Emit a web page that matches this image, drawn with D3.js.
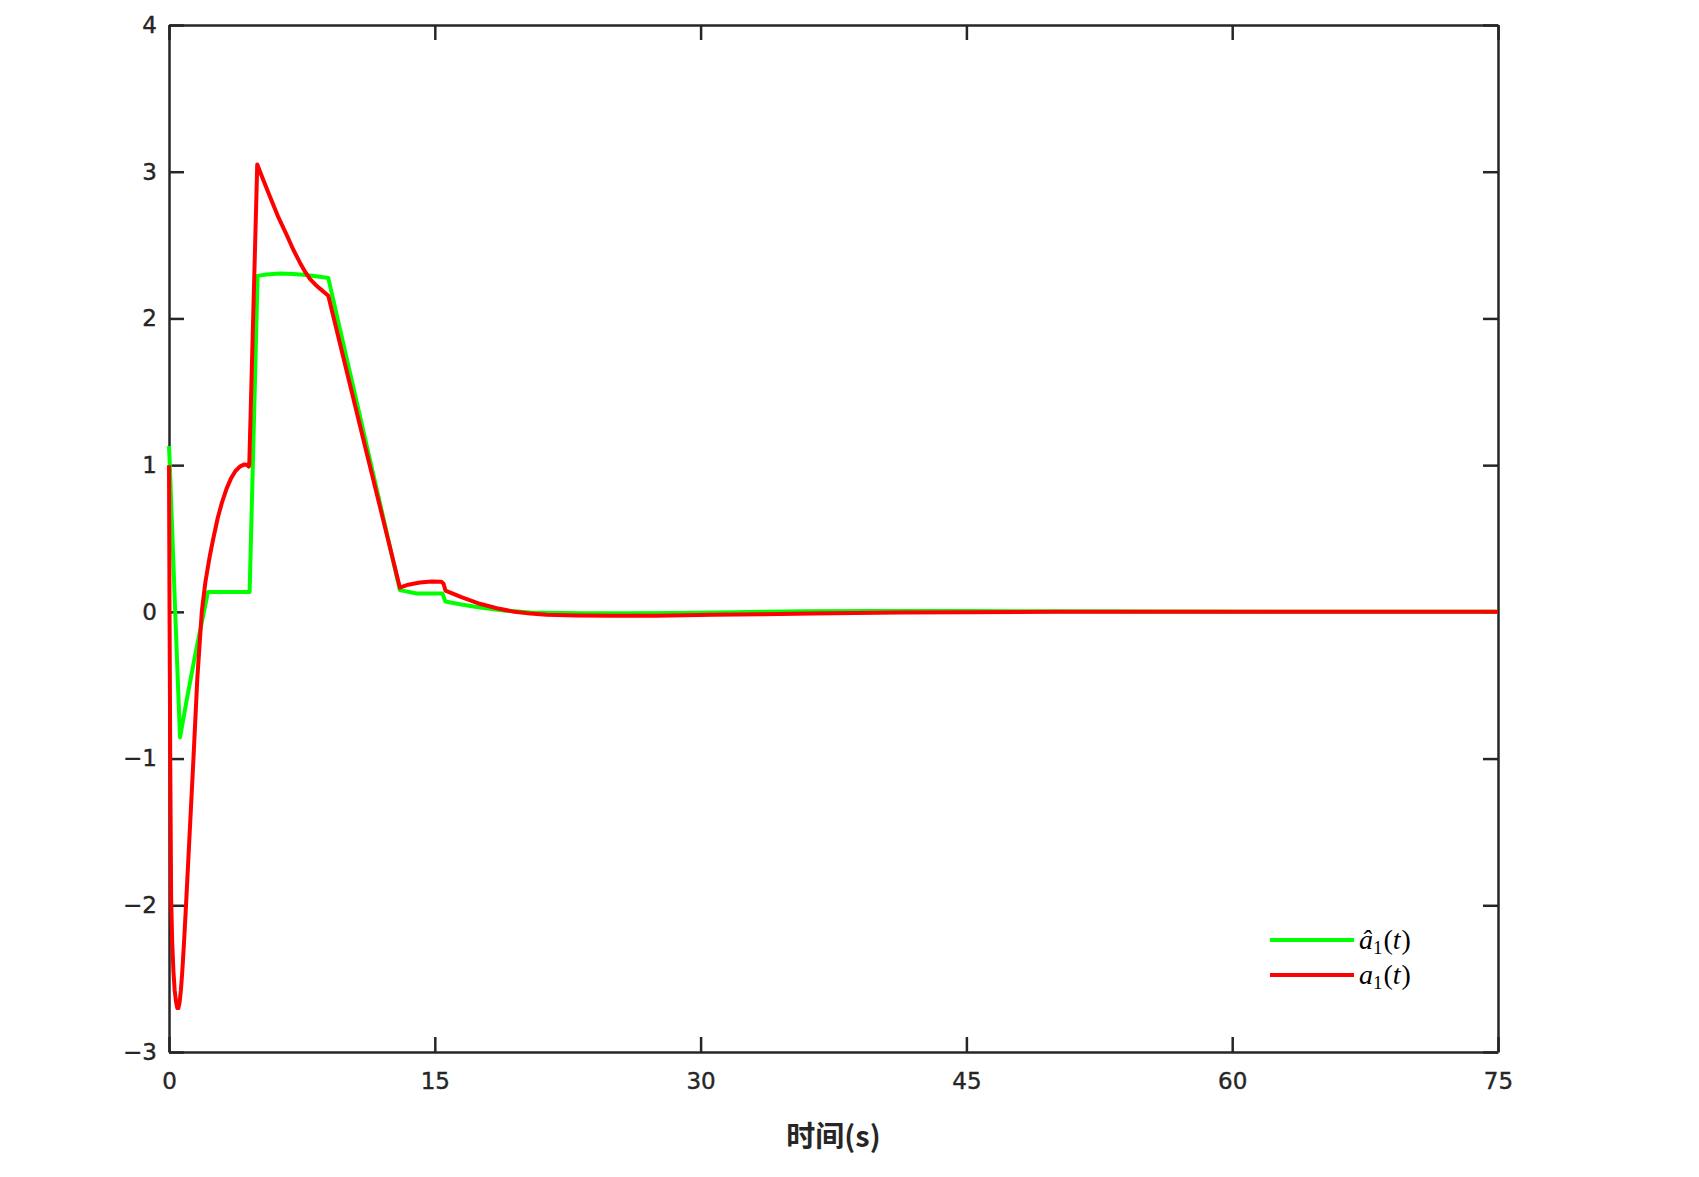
<!DOCTYPE html>
<html>
<head>
<meta charset="utf-8">
<script src="https://cdn.jsdelivr.net/npm/d3@7"></script>
<style>
  body { margin: 0; background: #fff; }
</style>
</head>
<body>
<div id="chart"></div>
<script>
// time (s) and value
var tRed = [0, 0.03, 0.07, 0.12, 0.18, 0.25, 0.32, 0.4, 0.47, 0.53, 0.6, 0.67, 0.75, 0.85, 0.96,
  1.17, 1.38, 1.6, 1.85, 2.05, 2.3, 2.5, 2.75, 3.0, 3.25, 3.5, 3.75, 4.0, 4.25, 4.4, 4.5, 4.53,
  4.98, 5.3, 5.7, 6.17, 6.64, 7.01, 7.39, 7.67, 7.95, 8.25, 8.52, 8.99, 11.0, 13.03, 13.5,
  14.16, 14.8, 15.38, 15.5, 15.6, 16.5, 17.54, 18.5, 19.5, 20.4, 21.3, 23, 25, 27.5, 30.7,
  33.5, 36.3, 41.2, 45, 50, 75];
var vRed = [1.0, 0.0, -1.0, -1.95, -2.25, -2.45, -2.58, -2.66, -2.7, -2.7, -2.66, -2.58, -2.45, -2.25, -2.0,
  -1.5, -1.0, -0.45, 0.0, 0.2, 0.38, 0.5, 0.64, 0.75, 0.84, 0.91, 0.96, 0.99, 1.005, 1.003, 0.99, 1.0,
  3.05, 2.95, 2.83, 2.69, 2.57, 2.47, 2.38, 2.32, 2.27, 2.232, 2.203, 2.155, 1.16, 0.165, 0.185,
  0.2, 0.207, 0.205, 0.19, 0.145, 0.1, 0.055, 0.025, 0.0, -0.012, -0.02, -0.025, -0.027, -0.026, -0.02,
  -0.016, -0.012, -0.005, -0.002, 0.0, 0.0];

var tGreen = [0, 0.03, 0.35, 0.62, 1.0, 1.5, 2.2, 4.55, 5.0, 5.5, 6.26, 7.0, 7.57, 8.3, 8.99,
  13.03, 13.97, 15.43, 15.6, 16.5, 17.54, 19, 20.4, 23.2, 26, 28.8, 32, 36, 40, 45, 55, 65, 75];
var vGreen = [1.13, 1.05, 0.0, -0.855, -0.6, -0.28, 0.136, 0.136, 2.29, 2.3, 2.306, 2.303, 2.297, 2.288, 2.275,
  0.148, 0.125, 0.125, 0.07, 0.05, 0.03, 0.008, -0.005, -0.01, -0.01, -0.007, -0.002, 0.004, 0.006, 0.005, 0.003, 0.001, 0.0];

var xTicks = [0, 15, 30, 45, 60, 75];
var yTicks = [-3, -2, -1, 0, 1, 2, 3, 4];

var W = 1699, H = 1177;
var margin = {top: 25, right: 201, bottom: 125, left: 169},
    width = W - margin.left - margin.right,
    height = H - margin.top - margin.bottom;

var svg = d3.select("#chart")
  .append("svg")
    .attr("width", W)
    .attr("height", H)
  .append("g")
    .attr("transform", "translate(" + margin.left + "," + margin.top + ")");

var x = d3.scaleLinear().domain([0, 75]).range([0, width]);
var y = d3.scaleLinear().domain([-3, 4]).range([height, 0]);

var axisColor = "#262626";
var tickFont = "'DejaVu Sans', sans-serif";

function styleAxis(g) {
  g.selectAll("path.domain").attr("stroke", axisColor).attr("stroke-width", 2.5);
  g.selectAll(".tick line").attr("stroke", axisColor).attr("stroke-width", 2.5);
  g.selectAll(".tick text").attr("fill", axisColor)
    .style("font-family", tickFont).style("font-size", "23px")
    .attr("stroke", axisColor).attr("stroke-width", 0.4);
}

// bottom
svg.append("g")
  .attr("transform", "translate(0," + height + ")")
  .call(d3.axisBottom(x).tickValues(xTicks).tickSizeInner(-15).tickSizeOuter(0).tickPadding(21))
  .call(styleAxis);
// left
svg.append("g")
  .call(d3.axisLeft(y).tickValues(yTicks).tickSizeInner(-15).tickSizeOuter(0).tickPadding(12)
    .tickFormat(function(d) { return d < 0 ? "\u2212" + Math.abs(d) : d; }))
  .call(styleAxis);
// top
svg.append("g")
  .call(d3.axisTop(x).tickValues(xTicks).tickSizeInner(-15).tickSizeOuter(0).tickFormat(""))
  .call(styleAxis);
// right
svg.append("g")
  .attr("transform", "translate(" + width + ",0)")
  .call(d3.axisRight(y).tickValues(yTicks).tickSizeInner(-15).tickSizeOuter(0).tickFormat(""))
  .call(styleAxis);

var line = d3.line()
  .x(function(d) { return x(d[0]); })
  .y(function(d) { return y(d[1]); });

var green = d3.zip(tGreen, vGreen);
var red = d3.zip(tRed, vRed);

svg.append("path")
  .datum(green)
  .attr("fill", "none")
  .attr("stroke", "#00ff00")
  .attr("stroke-width", 4)
  .attr("stroke-linejoin", "round")
  .attr("d", line);

svg.append("path")
  .datum(red)
  .attr("fill", "none")
  .attr("stroke", "#ff0000")
  .attr("stroke-width", 4)
  .attr("stroke-linejoin", "round")
  .attr("d", line);

// x label
svg.append("text")
  .attr("x", width / 2)
  .attr("y", 1147 - margin.top)
  .attr("text-anchor", "middle")
  .style("font-family", "'Noto Sans CJK SC', sans-serif")
  .style("font-weight", "bold")
  .style("font-size", "29px")
  .attr("fill", "#262626")
  .text("时间(s)");

// legend
var legend = svg.append("g")
  .attr("transform", "translate(" + (1270 - margin.left) + "," + (940 - margin.top) + ")");

var items = [{c: "#00ff00", hat: true}, {c: "#ff0000", hat: false}];
items.forEach(function(it, i) {
  var row = legend.append("g").attr("transform", "translate(0," + (i * 35) + ")");
  row.append("line")
    .attr("x1", 0).attr("x2", 84)
    .attr("stroke", it.c).attr("stroke-width", 4);
  var t = row.append("text")
    .attr("x", 89).attr("y", 9)
    .style("font-family", "'Liberation Serif', serif")
    .style("font-size", "28px")
    .attr("fill", "#000");
  t.append("tspan").style("font-style", "italic").text(it.hat ? "\u00e2" : "a");
  t.append("tspan").attr("dy", 5).style("font-size", "19px").text("1");
  t.append("tspan").attr("dy", -5).attr("dx", 1).text("(");
  t.append("tspan").style("font-style", "italic").text("t");
  t.append("tspan").attr("dx", 1).text(")");
});
</script>
</body>
</html>
